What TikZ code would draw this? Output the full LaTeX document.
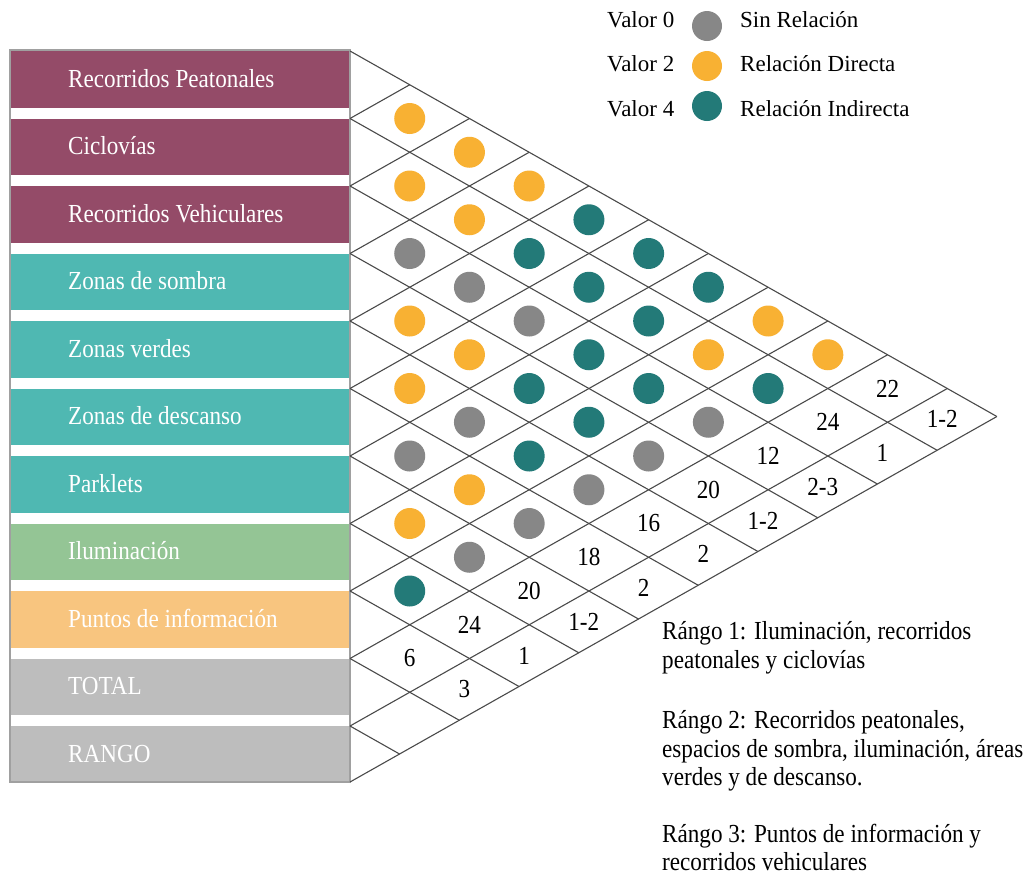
\documentclass[tikz,border=0pt]{standalone}
\usepackage{fontspec}
\setmainfont{Liberation Serif}[FakeStretch=0.89]
\newfontfamily\legfont{Liberation Serif}
\definecolor{maroon}{HTML}{944B68}
\definecolor{tealbar}{HTML}{4FB8B2}
\definecolor{greenbar}{HTML}{94C595}
\definecolor{orangebar}{HTML}{F8C57F}
\definecolor{graybar}{HTML}{BDBDBD}
\definecolor{cOr}{HTML}{F8B133}
\definecolor{cTe}{HTML}{237A78}
\definecolor{cGr}{HTML}{878787}
\definecolor{gridc}{HTML}{4A4A4A}
\definecolor{boxc}{HTML}{A0A0A0}
\begin{document}
\begin{tikzpicture}[x=1pt,y=-1pt,
  gridline/.style={draw=gridc, line width=1.1pt},
  bar/.style={rectangle, inner sep=0, minimum width=338, minimum height=56.5, anchor=north west},
  lab/.style={anchor=base west, inner sep=0, text=white, font=\fontsize{26}{30}\selectfont},
  dot/.style={circle, inner sep=0, minimum size=31},
  num/.style={inner sep=0, text=black, font=\fontsize{26}{30}\selectfont},
  leg/.style={anchor=base west, inner sep=0, font=\legfont\fontsize{23}{26}\selectfont},
  note/.style={anchor=base west, inner sep=0, font=\fontsize{26}{30}\selectfont}]
\def\Jm{10.83}
\fill[white] (0,0) rectangle (1036,879);
\useasboundingbox (0,0) rectangle (1036,879);
% left bars
\foreach \i/\col/\txt in {0/maroon/Recorridos Peatonales, 1/maroon/Ciclovías, 2/maroon/Recorridos Vehiculares, 3/tealbar/Zonas de sombra, 4/tealbar/Zonas verdes, 5/tealbar/Zonas de descanso, 6/tealbar/Parklets, 7/greenbar/Iluminación, 8/orangebar/Puntos de información, 9/graybar/TOTAL}{
  \node[bar, fill=\col] (b\i) at (11,{51+67.5*\i}) {};
  \node[lab] (l\i) at (68,{51+67.5*\i+36}) {\txt};
}
\node[bar, fill=graybar, minimum height=56] (b10) at (11,726) {};
\node[lab] (l10) at (68,762) {RANGO};
\draw[boxc, line width=1.4pt] (10,50) rectangle (350,782);
% triangular grid
\foreach \k in {0,...,10}{
  \draw[gridline] (350,{51+67.5*\k}) -- ({350+59.73*(\Jm-\k)},{51+33.75*(\k+\Jm)});
}
\foreach \j in {1,...,10}{
  \draw[gridline] (350,{51+67.5*\j}) -- ({350+59.73*\j},{51+33.75*\j});
}
\draw[gridline] (350,782) -- ({350+59.73*\Jm},{51+33.75*\Jm});
% relation dots
\foreach \a/\b/\c in {0/1/cOr,0/2/cOr,1/2/cOr,0/3/cOr,1/3/cOr,0/4/cTe,2/3/cGr,1/4/cTe,0/5/cTe,2/4/cGr,1/5/cTe,0/6/cTe,3/4/cOr,2/5/cGr,1/6/cTe,0/7/cOr,3/5/cOr,2/6/cTe,1/7/cOr,0/8/cOr,4/5/cOr,3/6/cTe,2/7/cTe,1/8/cTe,4/6/cGr,3/7/cTe,2/8/cGr,5/6/cGr,4/7/cTe,3/8/cGr,5/7/cOr,4/8/cGr,6/7/cOr,5/8/cGr,6/8/cGr,7/8/cTe}{
  \node[dot, fill=\c] (d\a-\b) at ({350+59.73*(\b-\a)},{51+33.75*(\a+\b+1)}) {};
}
% totals
\foreach \a/\v in {0/22,1/24,2/12,3/20,4/16,5/18,6/20,7/24,8/6}{
  \node[num] (t\a) at ({350+59.73*(9-\a)},{51+33.75*(\a+10)}) {\v};
}
% ranges
\foreach \a/\v in {0/1-2,1/1,2/2-3,3/1-2,4/2,5/2,6/1-2,7/1,8/3}{
  \node[num] (r\a) at ({350+59.73*(9.915-\a)},{51+33.75*(\a+10.915)}) {\v};
}
% legend
\foreach \n/\yy/\c/\d in {0/0/cGr/Sin Relación, 2/1/cOr/Relación Directa, 4/2/cTe/Relación Indirecta}{
  \node[leg] (v\n) at (607,{27+44.5*\yy}) {Valor \n};
  \node[dot, minimum size=30, fill=\c] (k\n) at (707,{26+40*\yy}) {};
  \node[leg] (s\n) at (740,{27+44.5*\yy}) {\d};
}
% notes
\node[note] (n1a) at (662,639) {Rángo 1: Iluminación, recorridos};
\node[note] (n1b) at (662,668) {peatonales y ciclovías};
\node[note] (n2a) at (662,728) {Rángo 2: Recorridos peatonales,};
\node[note] (n2b) at (662,757) {espacios de sombra, iluminación, áreas};
\node[note] (n2c) at (662,785) {verdes y de descanso.};
\node[note] (n3a) at (662,842) {Rángo 3: Puntos de información y};
\node[note] (n3b) at (662,870) {recorridos vehiculares};
\end{tikzpicture}
\end{document}
